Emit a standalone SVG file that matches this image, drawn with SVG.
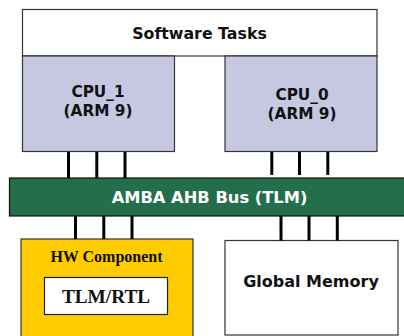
<svg xmlns="http://www.w3.org/2000/svg" width="404" height="336" viewBox="0 0 404 336">
<style>
.box{stroke:#333;stroke-width:1.2}
.sans{font-family:"DejaVu Sans","Liberation Sans",sans-serif;font-weight:bold;text-anchor:middle}
.serif{font-family:"Liberation Serif","Times New Roman",serif;font-weight:bold;text-anchor:middle;fill:#111}
.wire{stroke:#000;stroke-width:3}
</style>
<rect width="404" height="336" fill="#fff"/>
<g id="software-tasks">
<rect class="box" x="22.5" y="9.5" width="354.5" height="46.5" fill="#fff"/>
<text class="sans" x="199.5" y="38.5" font-size="15.8" fill="#111">Software Tasks</text>
</g>
<g id="cpu1">
<rect class="box" x="22.5" y="56" width="152" height="95.5" fill="#c5c8e0"/>
<text class="sans" x="98" y="97" font-size="15.3" fill="#111">CPU_1</text>
<text class="sans" x="98" y="116" font-size="15.3" fill="#111">(ARM 9)</text>
</g>
<g id="cpu0">
<rect class="box" x="225" y="56" width="152" height="95.5" fill="#c5c8e0"/>
<text class="sans" x="302" y="100" font-size="15.3" fill="#111">CPU_0</text>
<text class="sans" x="302" y="118.5" font-size="15.3" fill="#111">(ARM 9)</text>
</g>
<g id="bus">
<rect x="9.5" y="178" width="400" height="38" fill="#236f4c" stroke="#111" stroke-width="1.2"/>
<text class="sans" x="209.5" y="203" font-size="16.3" fill="#fff">AMBA AHB Bus (TLM)</text>
</g>
<g id="hw-component">
<rect class="box" x="21" y="239" width="172" height="105" fill="#ffcc00"/>
<text class="serif" x="106.5" y="262" font-size="16">HW Component</text>
<rect x="44.5" y="277.5" width="123" height="37" fill="#fff" stroke="#222" stroke-width="1.2"/>
<text class="serif" x="106" y="303" font-size="19.3">TLM/RTL</text>
</g>
<g id="global-memory">
<rect class="box" x="225" y="240.5" width="173" height="94.5" fill="#fff"/>
<text class="sans" x="311" y="287" font-size="16" fill="#111">Global Memory</text>
</g>
<g id="connectors">
<line class="wire" x1="68.5" y1="152" x2="68.5" y2="178"/>
<line class="wire" x1="96.8" y1="152" x2="96.8" y2="178"/>
<line class="wire" x1="125" y1="152" x2="125" y2="178"/>
<line class="wire" x1="271.8" y1="152" x2="271.8" y2="175"/>
<line class="wire" x1="299.5" y1="152" x2="299.5" y2="175"/>
<line class="wire" x1="327.8" y1="152" x2="327.8" y2="175"/>
<line class="wire" x1="75.5" y1="216" x2="75.5" y2="239"/>
<line class="wire" x1="103.8" y1="216" x2="103.8" y2="239"/>
<line class="wire" x1="132" y1="216" x2="132" y2="239"/>
<line class="wire" x1="281" y1="216" x2="281" y2="240.5"/>
<line class="wire" x1="309" y1="216" x2="309" y2="240.5"/>
<line class="wire" x1="337.3" y1="216" x2="337.3" y2="240.5"/>
</g>
</svg>
